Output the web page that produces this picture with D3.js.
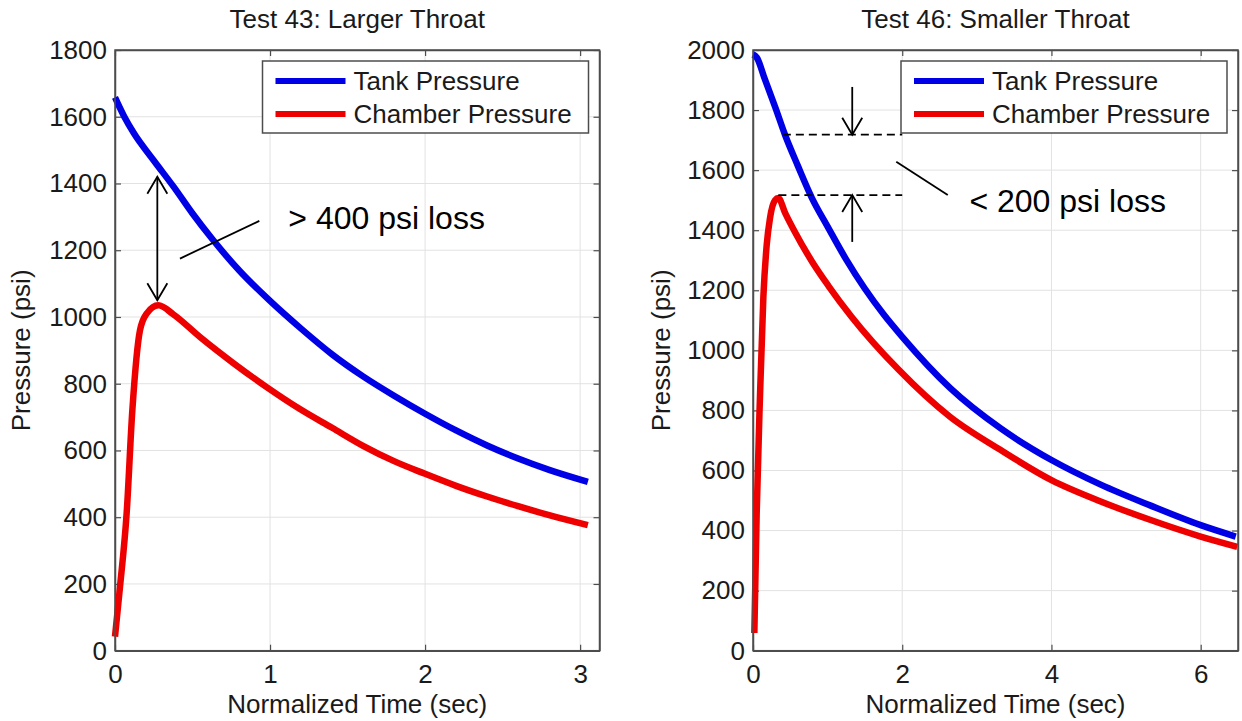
<!DOCTYPE html>
<html>
<head>
<meta charset="utf-8">
<script src="https://cdn.jsdelivr.net/npm/d3@7/dist/d3.min.js"></script>
<style>
  body { margin: 0; background: #fff; }
  svg { font-family: "Liberation Sans", Arial, sans-serif; }
</style>
</head>
<body>
<svg id="chart" width="1242" height="721"></svg>
<script>
// Test 43: larger throat
const t43TankTime = [0, 0.06, 0.12, 0.25, 0.38, 0.5, 0.63, 0.8, 1.0, 1.2, 1.4, 1.6, 1.8, 2.0, 2.2, 2.4, 2.6, 2.8, 3.05];
const t43Tank     = [1658, 1600, 1552, 1469, 1389, 1310, 1232, 1140, 1048, 965, 888, 822, 764, 710, 660, 615, 576, 542, 506];
const t43ChamberTime = [0, 0.032, 0.075, 0.112, 0.161, 0.204, 0.28, 0.376, 0.548, 0.763, 0.978, 1.19, 1.4, 1.6, 1.8, 2.0, 2.2, 2.4, 2.6, 2.8, 3.05];
const t43Chamber     = [42, 190, 411, 721, 960, 1010, 1035, 1008, 940, 862, 790, 725, 668, 614, 568, 530, 494, 462, 433, 406, 376];

// Test 46: smaller throat
const t46TankTime = [0, 0.05, 0.16, 0.3, 0.43, 0.6, 0.79, 1.0, 1.25, 1.5, 1.75, 2.0, 2.64, 3.32, 4.0, 4.66, 5.33, 6.0, 6.47];
const t46Tank     = [1985, 1975, 1902, 1808, 1717, 1615, 1507, 1412, 1302, 1205, 1120, 1045, 875, 740, 635, 553, 483, 418, 380];
const t46ChamberTime = [0.018, 0.049, 0.094, 0.139, 0.183, 0.228, 0.295, 0.34, 0.43, 0.56, 0.79, 1.01, 1.32, 1.95, 2.64, 3.32, 4.0, 4.66, 5.33, 6.0, 6.49];
const t46Chamber     = [59, 454, 849, 1178, 1349, 1441, 1500, 1507, 1458, 1395, 1296, 1215, 1112, 936, 779, 668, 568, 497, 435, 380, 346];

const seriesNames = ["Tank Pressure", "Chamber Pressure"];
const seriesColors = ["#0000e6", "#ee0000"];

const leftXTicks = [0, 1, 2, 3];
const leftYTicks = [0, 200, 400, 600, 800, 1000, 1200, 1400, 1600, 1800];
const rightXTicks = [0, 2, 4, 6];
const rightYTicks = [0, 200, 400, 600, 800, 1000, 1200, 1400, 1600, 1800, 2000];

const svg = d3.select("#chart");
const axisColor = "#4d4d4d";
const textColor = "#1a1a1a";

function drawPanel(p) {
  const x = d3.scaleLinear().domain([0, p.xMax]).range([p.x0, p.x1]);
  const y = d3.scaleLinear().domain([0, p.yMax]).range([p.y1, p.y0]);
  const g = svg.append("g");

  // grid lines
  g.append("g").selectAll("line").data(p.xTicks.filter(d => d > 0)).join("line")
    .attr("x1", d => x(d)).attr("x2", d => x(d))
    .attr("y1", p.y0).attr("y2", p.y1)
    .attr("stroke", "#e2e2e2").attr("stroke-width", 1);
  g.append("g").selectAll("line").data(p.yTicks.filter(d => d > 0 && d < p.yMax)).join("line")
    .attr("x1", p.x0).attr("x2", p.x1)
    .attr("y1", d => y(d)).attr("y2", d => y(d))
    .attr("stroke", "#e2e2e2").attr("stroke-width", 1);

  // axes, ticks pointing inwards on all four sides
  g.append("g").attr("transform", `translate(0,${p.y1})`)
    .call(d3.axisBottom(x).tickValues(p.xTicks).tickSize(-6).tickSizeOuter(0).tickPadding(14).tickFormat(d3.format("d")));
  g.append("g").attr("transform", `translate(${p.x0},0)`)
    .call(d3.axisLeft(y).tickValues(p.yTicks).tickSize(-6).tickSizeOuter(0).tickPadding(8).tickFormat(d3.format("d")));
  g.append("g").attr("transform", `translate(0,${p.y0})`)
    .call(d3.axisTop(x).tickValues(p.xTicks).tickSize(-6).tickSizeOuter(0).tickFormat(""));
  g.append("g").attr("transform", `translate(${p.x1},0)`)
    .call(d3.axisRight(y).tickValues(p.yTicks).tickSize(-6).tickSizeOuter(0).tickFormat(""));
  g.selectAll(".domain").attr("stroke", axisColor).attr("stroke-width", 1.5);
  g.selectAll(".tick line").attr("stroke", axisColor).attr("stroke-width", 1.2);
  g.selectAll(".tick text").attr("font-size", 26).attr("fill", textColor)
    .attr("font-family", "Liberation Sans, Arial, sans-serif");

  // curves
  const line = d3.line().x(d => x(d[0])).y(d => y(d[1])).curve(d3.curveMonotoneX);
  p.series.forEach((s, i) => {
    g.append("path")
      .datum(d3.zip(s.t, s.v))
      .attr("d", line)
      .attr("fill", "none")
      .attr("stroke", seriesColors[i])
      .attr("stroke-width", 6.5)
      .attr("stroke-linejoin", "round")
      .attr("stroke-linecap", "butt");
  });

  // box outline
  g.append("rect")
    .attr("x", p.x0).attr("y", p.y0)
    .attr("width", p.x1 - p.x0).attr("height", p.y1 - p.y0)
    .attr("fill", "none").attr("stroke", axisColor).attr("stroke-width", 1.5);

  // title and axis labels
  g.append("text")
    .attr("x", (p.x0 + p.x1) / 2).attr("y", 28)
    .attr("text-anchor", "middle").attr("font-size", 26).attr("fill", textColor)
    .text(p.title);
  g.append("text")
    .attr("x", (p.x0 + p.x1) / 2).attr("y", 713)
    .attr("text-anchor", "middle").attr("font-size", 26).attr("fill", textColor)
    .text("Normalized Time (sec)");
  g.append("text")
    .attr("transform", `translate(${p.yLabelX},${(p.y0 + p.y1) / 2}) rotate(-90)`)
    .attr("text-anchor", "middle").attr("font-size", 26).attr("fill", textColor)
    .text("Pressure (psi)");

  // legend
  const lw = 326, lh = 72;
  const lx = p.x1 - 11 - lw, ly = p.y0 + 11;
  const leg = g.append("g").attr("transform", `translate(${lx},${ly})`);
  leg.append("rect").attr("width", lw).attr("height", lh)
    .attr("fill", "#fff").attr("stroke", axisColor).attr("stroke-width", 1.5);
  seriesNames.forEach((name, i) => {
    leg.append("line")
      .attr("x1", 13).attr("x2", 83)
      .attr("y1", 20 + i * 33).attr("y2", 20 + i * 33)
      .attr("stroke", seriesColors[i]).attr("stroke-width", 6);
    leg.append("text")
      .attr("x", 91).attr("y", 29 + i * 33)
      .attr("font-size", 26).attr("fill", textColor)
      .text(name);
  });

  // annotations
  const ann = g.append("g").attr("stroke", "#000").attr("stroke-width", 1.8).attr("fill", "none");
  const head = (px, py, dir) => {
    // open V arrow head at (px,py); dir = -1 points up, 1 points down
    ann.append("path")
      .attr("d", `M${px - 10},${py - dir * 17} L${px},${py} L${px + 10},${py - dir * 17}`);
  };
  p.arrows.forEach(a => {
    const ax = x(a.t), yFrom = y(a.from), yTo = y(a.to);
    ann.append("line").attr("x1", ax).attr("x2", ax).attr("y1", yFrom).attr("y2", yTo);
    head(ax, yTo, yTo > yFrom ? 1 : -1);
    if (a.both) head(ax, yFrom, yFrom > yTo ? 1 : -1);
  });
  p.dashes.forEach(d => {
    ann.append("line")
      .attr("x1", x(d.t0)).attr("x2", x(d.t1))
      .attr("y1", y(d.v)).attr("y2", y(d.v))
      .attr("stroke-dasharray", "8,5");
  });
  ann.append("line")
    .attr("x1", x(p.pointer[0])).attr("y1", y(p.pointer[1]))
    .attr("x2", x(p.pointer[2])).attr("y2", y(p.pointer[3]));
  g.append("text")
    .attr("x", x(p.note.t)).attr("y", y(p.note.v))
    .attr("font-size", 32).attr("fill", "#000")
    .text(p.note.text);
}

drawPanel({
  x0: 115, x1: 599.5, y0: 50, y1: 650.7, yLabelX: 30,
  xMax: 3.125, yMax: 1800,
  xTicks: leftXTicks, yTicks: leftYTicks,
  title: "Test 43: Larger Throat",
  series: [
    { t: t43TankTime, v: t43Tank },
    { t: t43ChamberTime, v: t43Chamber }
  ],
  arrows: [{ t: 0.273, from: 1420, to: 1050, both: true }],
  dashes: [],
  pointer: [0.419, 1175, 0.931, 1288],
  note: { t: 1.118, v: 1265, text: "> 400 psi loss" }
});

drawPanel({
  x0: 753, x1: 1238, y0: 50, y1: 650.7, yLabelX: 670,
  xMax: 6.5, yMax: 2000,
  xTicks: rightXTicks, yTicks: rightYTicks,
  title: "Test 46: Smaller Throat",
  series: [
    { t: t46TankTime, v: t46Tank },
    { t: t46ChamberTime, v: t46Chamber }
  ],
  arrows: [
    { t: 1.33, from: 1877, to: 1718 },
    { t: 1.33, from: 1361, to: 1517 }
  ],
  dashes: [
    { t0: 0.40, t1: 2.0, v: 1718 },
    { t0: 0.34, t1: 2.0, v: 1517 }
  ],
  pointer: [1.92, 1628, 2.61, 1517],
  note: { t: 2.9, v: 1461, text: "< 200 psi loss" }
});
</script>
</body>
</html>
